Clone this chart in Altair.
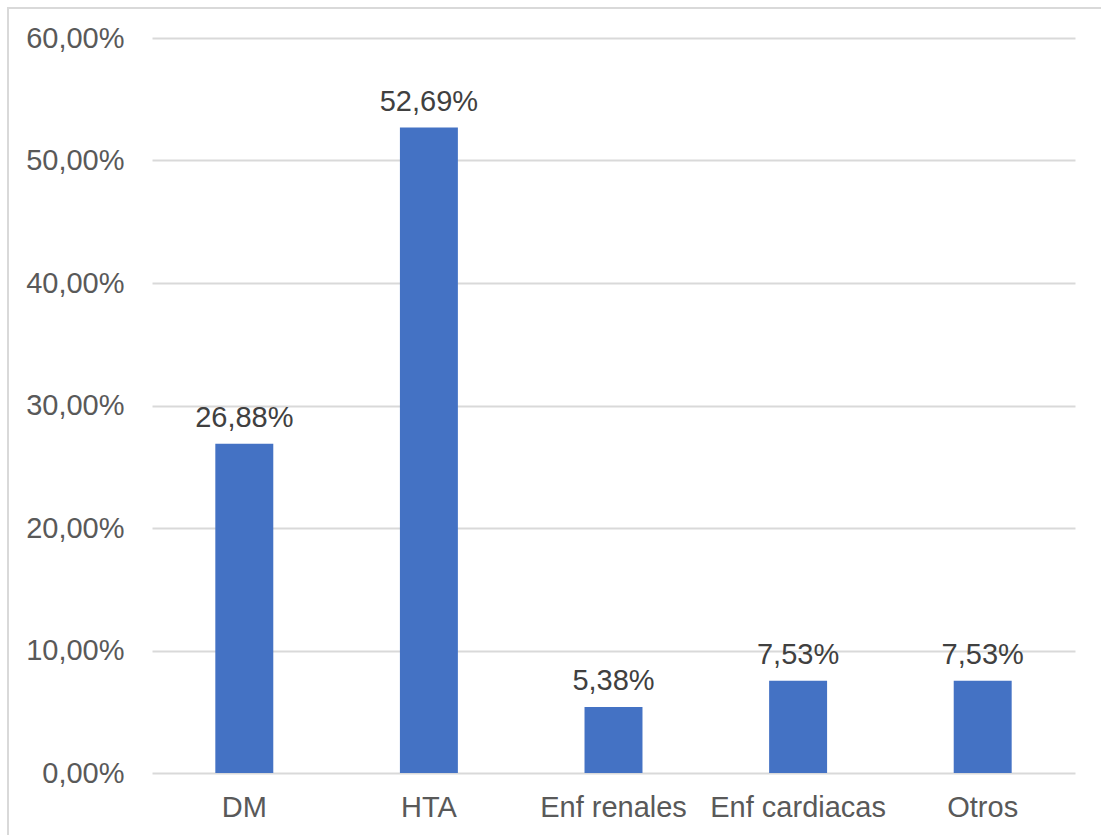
import altair as alt
import pandas as pd

# Comorbidity shares (%)
categories = ["DM", "HTA", "Enf renales", "Enf cardiacas", "Otros"]
values = [26.88, 52.69, 5.38, 7.53, 7.53]

df = pd.DataFrame({"categoria": categories, "porcentaje": values})

W, H = 923, 735
FONT = "Liberation Sans"
FS = 29

base = alt.Chart(df).transform_calculate(
    etiqueta="replace(format(datum.porcentaje, '.2f'), '.', ',') + '%'"
)

x_enc = alt.X(
    "categoria:N",
    sort=categories,
    title=None,
    scale=alt.Scale(paddingInner=0.686, paddingOuter=0.343),
    axis=alt.Axis(
        labelAngle=0,
        labelFont=FONT,
        labelFontSize=FS,
        labelColor="#595959",
        labelPadding=20,
        ticks=False,
        domain=False,
    ),
)

y_enc = alt.Y(
    "porcentaje:Q",
    title=None,
    scale=alt.Scale(domain=[0, 60], nice=False),
    axis=alt.Axis(
        values=[0, 10, 20, 30, 40, 50, 60],
        labelExpr="replace(format(datum.value, '.2f'), '.', ',') + '%'",
        labelFont=FONT,
        labelFontSize=FS,
        labelColor="#595959",
        labelPadding=28,
        ticks=False,
        domain=False,
        grid=True,
        gridColor="#d9d9d9",
        gridWidth=2,
    ),
)

bars = base.mark_bar(color="#4472C4").encode(x=x_enc, y=y_enc)

labels = base.mark_text(
    font=FONT, fontSize=FS, color="#404040", baseline="alphabetic", dy=-17
).encode(x=alt.X("categoria:N", sort=categories), y="porcentaje:Q", text="etiqueta:N")

# Outer frame around the whole chart
frame = alt.Chart(df).mark_rect(
    fill=None, stroke="#d9d9d9", strokeWidth=2, clip=False
).encode(
    x=alt.value(-144), x2=alt.value(W + 40),
    y=alt.value(-30), y2=alt.value(H + 80),
).transform_filter("datum.categoria == 'DM'")

chart = alt.layer(frame, bars, labels).properties(
    width=W,
    height=H,
    padding={"left": 152, "top": 38, "right": 26, "bottom": 62},
    autosize=alt.AutoSizeParams(type="none"),
    background="white",
).configure_view(stroke=None)

chart.save("out.html", embed_options={"renderer": "svg", "actions": False})
